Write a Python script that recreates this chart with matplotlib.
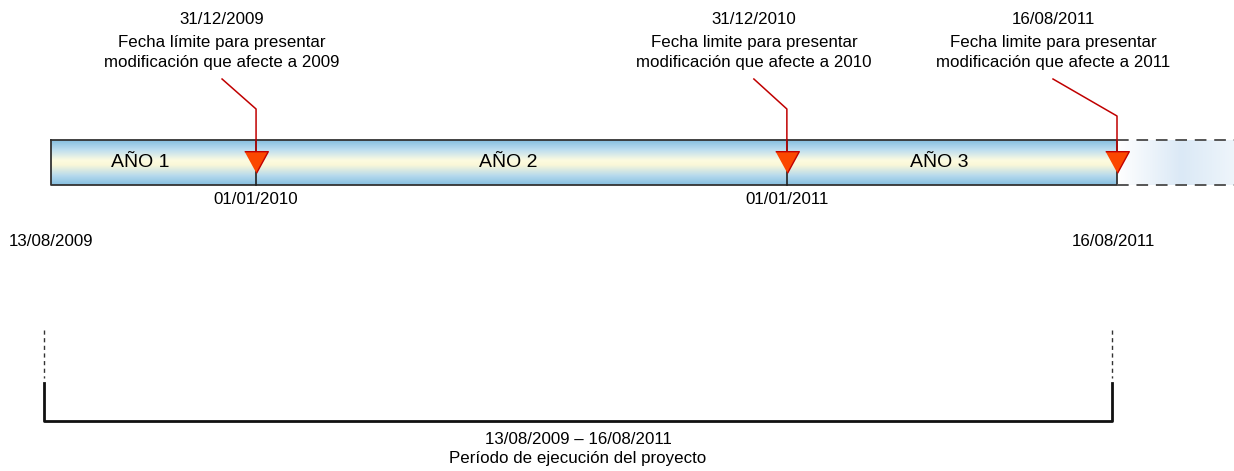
import numpy as np
import matplotlib
matplotlib.use("Agg")
import matplotlib.pyplot as plt
import matplotlib.dates as mdates
from matplotlib.colors import LinearSegmentedColormap
from datetime import date

plt.rcParams['font.family'] = ['Liberation Sans', 'DejaVu Sans']

# data
project_start = date(2009, 8, 13)
project_end = date(2011, 8, 16)
year_breaks = [date(2010, 1, 1), date(2011, 1, 1)]
year_labels = ["AÑO 1", "AÑO 2", "AÑO 3"]
marker_dates = [date(2010, 1, 1), date(2011, 1, 1), date(2011, 8, 16)]
deadline_labels = ["31/12/2009", "31/12/2010", "16/08/2011"]
deadline_text = ["Fecha límite para presentar", "Fecha limite para presentar", "Fecha limite para presentar"]
deadline_years = ["2009", "2010", "2011"]
break_labels = ["01/01/2010", "01/01/2011"]
period_label = "13/08/2009 – 16/08/2011"
period_caption = "Período de ejecución del proyecto"

W, H = 1234, 471
FS = 12.2
fig = plt.figure(figsize=(W / 100, H / 100), dpi=100)
ax = fig.add_axes([0, 0, 1, 1])
ax.set_axis_off()

d0 = mdates.date2num(project_start)
d1 = mdates.date2num(project_end)
px_left, px_right = 51, 1117
scale = (px_right - px_left) / (d1 - d0)  # pixels per day
ax.set_xlim(d0 - px_left / scale, d0 + (W - px_left) / scale)
ax.set_ylim(H, 0)

def px(n):
    return n / scale

bar_top, bar_bot = 140, 185
ymid = (bar_top + bar_bot) / 2

# main bar with vertical gradient
cmap = LinearSegmentedColormap.from_list(
    "bar", [(0, "#86bfe0"), (0.22, "#bfdeef"), (0.45, "#fdfbe0"), (0.55, "#fbf8d8"),
            (0.8, "#b5d9ed"), (1, "#86bfe0")])
grad = np.linspace(0, 1, 100).reshape(-1, 1)
ax.imshow(grad, cmap=cmap, aspect='auto', extent=(d0, d1, bar_bot, bar_top), zorder=1)
ax.plot([d0, d1, d1, d0, d0], [bar_top, bar_top, bar_bot, bar_bot, bar_top],
        color="#333333", lw=1.3, zorder=3)

# faded extension
x_end = d0 + (W - px_left) / scale
cmap2 = LinearSegmentedColormap.from_list(
    "ext", [(0, "#ffffff"), (0.55, "#dbe9f6"), (1, "#eef5fb")])
ax.imshow(np.linspace(0, 1, 100).reshape(1, -1), cmap=cmap2, aspect='auto',
          extent=(d1, x_end, bar_bot, bar_top), zorder=1)
for yy in (bar_top, bar_bot):
    ax.plot([d1, x_end], [yy, yy], color="#555555", lw=1.4, ls=(0, (6, 4)), zorder=3)

# year labels
seg = [d0] + [mdates.date2num(b) for b in year_breaks] + [d1]
for i, lab in enumerate(year_labels):
    xc = (seg[i] + seg[i + 1]) / 2 - px(13)
    ax.text(xc, ymid, lab, fontsize=14, ha='center', va='center', zorder=4)

# dividers and dates under the bar
for b, lab in zip(year_breaks, break_labels):
    xb = mdates.date2num(b)
    ax.plot([xb, xb], [bar_top, bar_bot], color="#222222", lw=1.2, zorder=3)
    ax.text(xb, 199, lab, fontsize=FS, ha='center', va='center')

ax.text(d0, 241, "13/08/2009", fontsize=FS, ha='center', va='center')
ax.text(d1 - px(4), 241, "16/08/2011", fontsize=FS, ha='center', va='center')

# deadline callouts
text_offsets = [-34, -33, -64]
elbow_y = [109, 109, 116]
tri = [(-12, 11), (12, 11), (0, -11)]
for i, md in enumerate(marker_dates):
    xm = mdates.date2num(md)
    xt = xm + px(text_offsets[i])
    ax.text(xt, 20, deadline_labels[i], fontsize=FS, ha='center', va='center')
    ax.text(xt, 43, deadline_text[i], fontsize=FS, ha='center', va='center')
    ax.text(xt, 62, "modificación que afecte a " + deadline_years[i], fontsize=FS,
            ha='center', va='center')
    ax.plot([xt, xm, xm], [79, elbow_y[i], 152], color="#c00000", lw=1.1, zorder=5)
    ax.plot([xm], [162], marker=tri, markersize=17, markerfacecolor="#fb4700",
            markeredgecolor="#c00000", markeredgewidth=1, zorder=6)

# period bracket
bl = d0 - px(7)
br = d1 - px(5)
ax.plot([bl, bl, br, br], [383, 421, 421, 383], color="#111111", lw=2, zorder=3)
for xx in (bl, br):
    ax.plot([xx, xx], [330, 378], color="#333333", lw=1, ls=(0, (3, 2.5)))
ax.text((bl + br) / 2, 439, period_label, fontsize=FS, ha='center', va='center')
ax.text((bl + br) / 2, 459, period_caption, fontsize=FS, ha='center', va='center')

fig.savefig("out.png", dpi=100, facecolor="white")
